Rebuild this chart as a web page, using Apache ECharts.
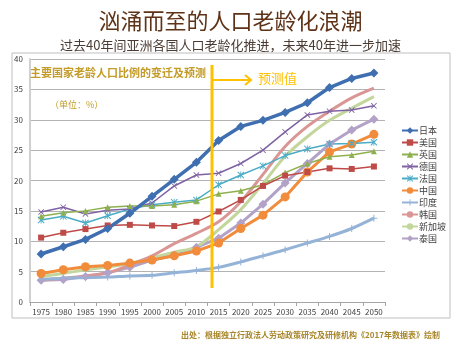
<!DOCTYPE html>
<html>
<head>
<meta charset="utf-8">
<script src="https://cdn.jsdelivr.net/npm/echarts@6/dist/echarts.min.js"></script>
<style>html,body{margin:0;padding:0;background:#fff;}#c{width:461px;height:345px;}</style>
</head>
<body>
<div id="c"></div>
<script>
var years = ['1975','1980','1985','1990','1995','2000','2005','2010','2015','2020','2025','2030','2035','2040','2045','2050'];
var yTicks = [0, 5, 10, 15, 20, 25, 30, 35, 40];
var japan = [7.9, 9.1, 10.3, 12.1, 14.6, 17.4, 20.2, 23.0, 26.6, 28.9, 29.9, 31.2, 32.8, 35.3, 36.8, 37.7];
var usa = [10.6, 11.4, 12.0, 12.6, 12.7, 12.6, 12.5, 13.2, 14.9, 16.8, 19.1, 20.8, 21.4, 22.0, 21.9, 22.3];
var uk = [14.1, 14.7, 15.0, 15.6, 15.8, 15.8, 16.0, 16.6, 17.8, 18.3, 19.3, 21.3, 22.8, 23.9, 24.2, 24.8];
var germany = [14.8, 15.6, 14.5, 15.1, 15.3, 16.3, 19.1, 20.9, 21.2, 22.8, 25.0, 28.0, 30.8, 31.4, 31.6, 32.3];
var france = [13.5, 14.1, 13.0, 14.2, 15.3, 16.0, 16.4, 16.8, 19.3, 20.9, 22.4, 24.1, 25.2, 26.0, 26.1, 26.3];
var china = [4.7, 5.3, 5.8, 6.0, 6.4, 6.9, 7.6, 8.4, 9.7, 12.1, 14.3, 17.3, 21.4, 24.7, 26.0, 27.6];
var india = [3.7, 3.9, 4.0, 4.1, 4.3, 4.4, 4.8, 5.2, 5.7, 6.6, 7.6, 8.6, 9.7, 10.8, 12.1, 13.8];
var korea = [3.6, 3.9, 4.3, 4.8, 6.1, 7.6, 9.6, 11.3, 13.2, 16.5, 21.0, 25.6, 28.9, 31.4, 33.6, 35.2];
var singapore = [4.2, 4.7, 5.3, 5.8, 6.3, 7.3, 8.2, 9.1, 11.9, 15.2, 19.5, 24.0, 27.2, 29.9, 31.9, 33.8];
var thailand = [3.6, 3.7, 4.2, 4.8, 5.7, 6.9, 7.7, 9.0, 10.5, 13.0, 16.1, 19.6, 22.8, 26.0, 28.3, 30.1];

var FONT = '"Noto Sans CJK SC", "Noto Sans", sans-serif';
var XSYM = 'path://M0,1L1,0L5,4L9,0L10,1L6,5L10,9L9,10L5,6L1,10L0,9L4,5Z';
var PLUS = 'path://M4.3,0H5.7V4.3H10V5.7H5.7V10H4.3V5.7H0V4.3H4.3Z';
var STAR = 'path://M0,1L1,0L5,4L9,0L10,1L6,5L10,9L9,10L5,6L1,10L0,9L4,5ZM4.4,0H5.6V10H4.4Z';

function mk(name, data, color, width, symbol, size, smooth) {
  return {
    name: name, type: 'line', data: data, smooth: smooth || false,
    symbol: symbol, symbolSize: size, showSymbol: symbol !== 'none',
    lineStyle: { color: color, width: width },
    itemStyle: { color: color, borderColor: color, borderWidth: 0 },
    emphasis: { disabled: true }
  };
}

var chart = echarts.init(document.getElementById('c'), null, { renderer: 'canvas' });
chart.setOption({
  animation: false,
  backgroundColor: '#ffffff',
  textStyle: { fontFamily: FONT },
  title: [
    { text: '汹涌而至的人口老龄化浪潮', left: 'center', top: 5,
      textStyle: { fontSize: 22, fontWeight: 'normal', color: '#5e3317', fontFamily: FONT } },
    { text: '过去40年间亚洲各国人口老龄化推进，未来40年进一步加速', left: 'center', top: 34,
      textStyle: { fontSize: 13, fontWeight: 'normal', color: '#4a3c33', fontFamily: FONT } }
  ],
  grid: { left: 30, right: 76, top: 59, bottom: 43, containLabel: false },
  legend: {
    orient: 'vertical', left: 396, top: 121, itemWidth: 16, itemHeight: 8, itemGap: 3,
    textStyle: { fontSize: 9, color: '#404040', fontFamily: FONT, padding: [0, 0, 0, -4] },
    icon: null,
    data: ['日本','美国','英国','德国','法国','中国','印度','韩国','新加坡','泰国']
  },
  xAxis: {
    type: 'category', data: years, boundaryGap: true,
    axisLine: { lineStyle: { color: '#a6a6a6', width: 1 } },
    axisTick: { show: true, alignWithLabel: false, length: 4, lineStyle: { color: '#a6a6a6' } },
    axisLabel: { fontSize: 8, color: '#404040', margin: 6, interval: 0 },
    splitLine: { show: false }
  },
  yAxis: {
    type: 'value', min: yTicks[0], max: yTicks[yTicks.length - 1], interval: 5,
    axisLine: { show: true, lineStyle: { color: '#d0d0d0', width: 2 } },
    axisTick: { show: false },
    axisLabel: { fontSize: 8, color: '#404040', margin: 7 },
    splitLine: { lineStyle: { color: '#b3b3b3', width: 1 } }
  },
  graphic: [
    { type: 'rect', shape: { x: 12, y: 53, width: 438, height: 265 }, style: { fill: 'none', stroke: '#bfbfbf', lineWidth: 1 }, z: 0 },
    { type: 'text', left: 30, top: 67, style: { text: '主要国家老龄人口比例的变迁及预测', font: 'bold 11px ' + FONT, fill: '#c39b28' }, z: 10 },
    { type: 'text', left: 50, top: 100, style: { text: '（单位：%）', font: '9px ' + FONT, fill: '#c39b28' }, z: 10 },
    { type: 'line', shape: { x1: 212, y1: 65, x2: 212, y2: 288 }, style: { stroke: '#ffc000', lineWidth: 3 }, z: 10 },
    { type: 'line', shape: { x1: 212, y1: 80, x2: 251, y2: 80 }, style: { stroke: '#ffc000', lineWidth: 2 }, z: 10 },
    { type: 'polyline', shape: { points: [[245, 75], [251, 80], [245, 85]] }, style: { stroke: '#ffc000', lineWidth: 2, fill: 'none' }, z: 10 },
    { type: 'text', left: 258, top: 72, style: { text: '预测值', font: '13px ' + FONT, fill: '#ffc000' }, z: 10 },
    { type: 'text', right: 21, top: 331, style: { text: '出处：根据独立行政法人劳动政策研究及研修机构《2017年数据表》绘制', font: 'bold 8px ' + FONT, fill: '#a8862a' }, z: 10 }
  ],
  series: [
    mk('泰国', thailand, '#b3a2c7', 3, 'diamond', 9),
    mk('新加坡', singapore, '#c3d69b', 3, 'none', 0, 0.3),
    mk('韩国', korea, '#d99694', 3, 'none', 0, 0.3),
    mk('印度', india, '#95b3d7', 3, PLUS, 7, 0.3),
    mk('中国', china, '#f08c3c', 3, 'circle', 9),
    mk('法国', france, '#4bacc6', 1.5, STAR, 7),
    mk('德国', germany, '#7f62a3', 1.5, XSYM, 6),
    mk('英国', uk, '#8fb04e', 1.5, 'triangle', 6),
    mk('美国', usa, '#be4b48', 1.5, 'rect', 6),
    mk('日本', japan, '#3f6fb0', 3.5, 'diamond', 9)
  ]
});
</script>
</body>
</html>
